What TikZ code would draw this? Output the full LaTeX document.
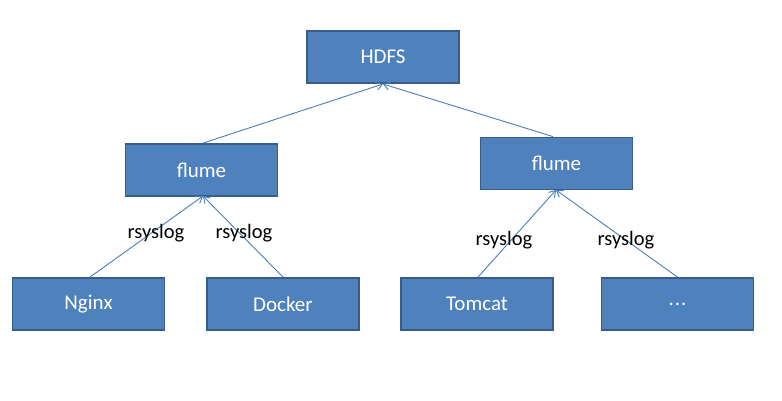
\documentclass[tikz,border=0pt]{standalone}
\usepackage{fontspec}
\setmainfont{Carlito}
\usetikzlibrary{arrows.meta}
\definecolor{boxfill}{HTML}{4F81BD}
\definecolor{boxline}{HTML}{385D8A}
\definecolor{linkcol}{HTML}{4A7EBB}
\begin{document}
\begin{tikzpicture}[x=1pt,y=-1pt,
  blk/.style={draw=boxline, line width=1.8pt, fill=boxfill, text=white,
    minimum width=152pt, minimum height=52pt, inner sep=0pt,
    font=\fontsize{21}{25}\selectfont},
  link/.style={draw=linkcol, line width=0.9pt, -{Straight Barb[length=6pt,width=8pt,line width=0.9pt]}},
  lbl/.style={text=black, font=\fontsize{20.5}{24}\selectfont, inner sep=1pt}]
\useasboundingbox (0,0) rectangle (782,401);
\node[blk] (hdfs) at (383,57) {HDFS};
\node[blk] (fl) at (201.5,170) {flume};
\node[blk] (fr) at (556.5,163.5) {flume};
\node[blk] (ngx) at (88.5,304) {Nginx};
\node[blk] (dock) at (283,304) {Docker};
\node[blk] (tom) at (477,304) {Tomcat};
\node[blk] (etc) at (677.5,304) {.\kern1pt.\kern1pt.};
\coordinate (hb) at (383,84);
\coordinate (flb) at (203,196);
\coordinate (frb) at (556,190);
\draw[link] (fl.north) ++(1.5,0) coordinate (flt) -- (hb);
\draw[link] (fr.north) ++(-3.5,0) coordinate (frt) -- (hb);
\draw[link] (ngx.north) ++(1.5,0) coordinate (nt) -- (flb);
\draw[link] (dock.north) coordinate (dt) -- (flb);
\draw[link] (tom.north) ++(1,0) coordinate (tt) -- (frb);
\draw[link] (etc.north) coordinate (et) -- (frb);
\node[lbl] (l1) at (156,233) {rsyslog};
\node[lbl] (l2) at (244,233) {rsyslog};
\node[lbl] (l3) at (504,240) {rsyslog};
\node[lbl] (l4) at (626,240) {rsyslog};
\end{tikzpicture}
\end{document}
